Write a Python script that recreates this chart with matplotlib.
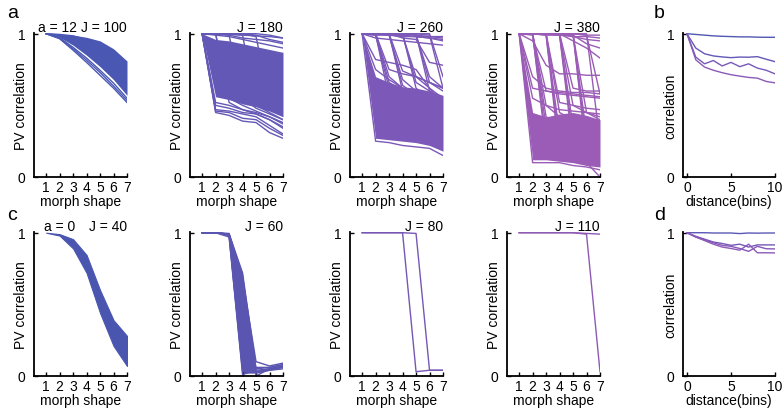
import matplotlib
matplotlib.use("Agg")
import matplotlib.pyplot as plt
import numpy as np

plt.rcParams['font.family'] = ['Liberation Sans', 'DejaVu Sans']
plt.rcParams['font.size'] = 10

# ---------------- data ----------------
morph_x = [1, 2, 3, 4, 5, 6, 7]
morph_ticks = [1, 2, 3, 4, 5, 6, 7]
dist_x = [0, 1, 2, 3, 4, 5, 6, 7, 8, 9, 10]
dist_ticks = [0, 5, 10]

titles_top = ["J = 100", "J = 180", "J = 260", "J = 380"]
titles_bot = ["J = 40", "J = 60", "J = 80", "J = 110"]
a_label_top = "a = 12"
a_label_bot = "a = 0"

colors_top = ["#4a58b4", "#6358b6", "#7c58b8", "#9a5cb6"]
colors_bot = ["#4a55b0", "#5a55b0", "#7657b4", "#8e5ab4"]

# panel a1 (J=100): dense band + edge lines
a1_band_hi = [1.0, 0.997, 0.99, 0.975, 0.95, 0.895, 0.81]
a1_band_lo = [1.0, 0.975, 0.92, 0.85, 0.77, 0.68, 0.57]
a1_lines = [
    [1.0, 0.965, 0.885, 0.80, 0.71, 0.62, 0.52],
    [1.0, 0.968, 0.895, 0.815, 0.73, 0.635, 0.535],
    [1.0, 0.972, 0.905, 0.83, 0.745, 0.655, 0.55],
    [1.0, 0.99, 0.96, 0.92, 0.86, 0.78, 0.68],
    [1.0, 0.995, 0.985, 0.96, 0.92, 0.85, 0.75],
]

# panel a2 (J=180)
a2_band_hi = [1.0, 0.96, 0.95, 0.93, 0.91, 0.89, 0.87]
a2_band_lo = [1.0, 0.56, 0.54, 0.51, 0.49, 0.46, 0.42]
a2_lines = [
    [1.0, 0.45, 0.43, 0.39, 0.38, 0.31, 0.27],
    [1.0, 0.47, 0.46, 0.44, 0.42, 0.36, 0.30],
    [1.0, 0.50, 0.48, 0.45, 0.44, 0.40, 0.34],
    [1.0, 0.52, 0.50, 0.47, 0.45, 0.42, 0.37],
    [1.0, 0.46, 0.45, 0.41, 0.40, 0.34, 0.29],
    [1.0, 0.99, 0.98, 0.96, 0.94, 0.92, 0.90],
    [1.0, 1.0, 0.995, 0.99, 0.985, 0.98, 0.97],
    [1.0, 1.0, 0.99, 0.97, 0.96, 0.95, 0.93],
    [1.0, 1.0, 0.55, 0.50, 0.46, 0.42, 0.38],
    [1.0, 1.0, 0.52, 0.47, 0.44, 0.40, 0.35],
    [1.0, 1.0, 0.99, 0.55, 0.48, 0.44, 0.40],
    [1.0, 1.0, 1.0, 0.99, 0.50, 0.45, 0.40],
    [1.0, 1.0, 1.0, 1.0, 0.98, 0.52, 0.45],
    [1.0, 1.0, 1.0, 1.0, 0.99, 0.96, 0.94],
    [1.0, 1.0, 1.0, 1.0, 1.0, 0.99, 0.97],
]

# panel a3 (J=260)
a3_band_hi = [1.0, 0.70, 0.66, 0.63, 0.62, 0.60, 0.57]
a3_band_lo = [1.0, 0.27, 0.26, 0.25, 0.24, 0.22, 0.18]
a3_lines = [
    [1.0, 0.25, 0.24, 0.22, 0.21, 0.20, 0.15],
    [1.0, 0.75, 0.68, 0.62, 0.58, 0.53, 0.48],
    [1.0, 0.82, 0.80, 0.78, 0.75, 0.62, 0.50],
    [1.0, 1.0, 0.55, 0.50, 0.45, 0.42, 0.38],
    [1.0, 0.99, 0.62, 0.56, 0.50, 0.46, 0.42],
    [1.0, 1.0, 0.70, 0.62, 0.55, 0.50, 0.45],
    [1.0, 0.995, 0.66, 0.60, 0.52, 0.48, 0.44],
    [1.0, 1.0, 0.75, 0.72, 0.70, 0.66, 0.62],
    [1.0, 1.0, 1.0, 0.60, 0.52, 0.48, 0.44],
    [1.0, 1.0, 0.99, 0.68, 0.60, 0.55, 0.50],
    [1.0, 1.0, 0.995, 0.64, 0.57, 0.52, 0.48],
    [1.0, 1.0, 1.0, 0.74, 0.70, 0.66, 0.62],
    [1.0, 1.0, 1.0, 1.0, 0.62, 0.55, 0.50],
    [1.0, 1.0, 1.0, 0.99, 0.70, 0.62, 0.55],
    [1.0, 1.0, 1.0, 0.995, 0.66, 0.60, 0.54],
    [1.0, 1.0, 1.0, 1.0, 1.0, 0.60, 0.55],
    [1.0, 1.0, 1.0, 1.0, 0.99, 0.70, 0.62],
    [1.0, 1.0, 1.0, 1.0, 0.995, 0.66, 0.60],
    [1.0, 1.0, 1.0, 1.0, 1.0, 0.99, 0.62],
    [1.0, 1.0, 1.0, 1.0, 1.0, 1.0, 0.70],
    [1.0, 1.0, 1.0, 0.99, 0.98, 0.97, 0.96],
    [1.0, 1.0, 0.99, 0.98, 0.98, 0.97, 0.95],
    [1.0, 0.99, 0.99, 0.985, 0.98, 0.98, 0.98],
    [1.0, 1.0, 1.0, 1.0, 0.99, 0.98, 0.97],
    [1.0, 0.97, 0.96, 0.95, 0.94, 0.93, 0.92],
    [1.0, 1.0, 1.0, 0.97, 0.96, 0.80, 0.78],
]

# panel a4 (J=380)
a4_band_hi = [1.0, 0.45, 0.42, 0.44, 0.45, 0.43, 0.40]
a4_band_lo = [1.0, 0.12, 0.12, 0.11, 0.10, 0.08, 0.07]
a4_lines = [
    [1.0, 0.10, 0.10, 0.10, 0.08, 0.07, 0.05],
    [1.0, 0.20, 0.18, 0.15, 0.12, 0.10, 0.0],
    [1.0, 0.55, 0.50, 0.47, 0.46, 0.45, 0.44],
    [1.0, 0.62, 0.60, 0.58, 0.57, 0.56, 0.55],
    [1.0, 0.70, 0.62, 0.60, 0.59, 0.59, 0.58],
    [1.0, 0.95, 0.78, 0.72, 0.72, 0.71, 0.71],
    [1.0, 1.0, 0.35, 0.30, 0.28, 0.25, 0.22],
    [1.0, 1.0, 0.50, 0.42, 0.40, 0.35, 0.30],
    [1.0, 1.0, 0.20, 0.18, 0.15, 0.15, 0.12],
    [1.0, 0.99, 0.60, 0.59, 0.58, 0.57, 0.56],
    [1.0, 0.995, 0.27, 0.24, 0.22, 0.20, 0.18],
    [1.0, 1.0, 0.42, 0.38, 0.35, 0.32, 0.30],
    [1.0, 1.0, 1.0, 0.30, 0.25, 0.22, 0.20],
    [1.0, 1.0, 1.0, 0.45, 0.40, 0.35, 0.30],
    [1.0, 1.0, 0.99, 0.15, 0.12, 0.10, 0.08],
    [1.0, 1.0, 0.995, 0.22, 0.20, 0.18, 0.16],
    [1.0, 1.0, 1.0, 0.52, 0.50, 0.48, 0.47],
    [1.0, 1.0, 1.0, 1.0, 0.35, 0.30, 0.25],
    [1.0, 1.0, 1.0, 0.99, 0.20, 0.18, 0.15],
    [1.0, 1.0, 1.0, 1.0, 0.50, 0.45, 0.42],
    [1.0, 1.0, 1.0, 0.995, 0.27, 0.24, 0.21],
    [1.0, 1.0, 1.0, 1.0, 0.62, 0.60, 0.60],
    [1.0, 1.0, 1.0, 1.0, 1.0, 0.30, 0.25],
    [1.0, 1.0, 1.0, 1.0, 0.99, 0.45, 0.40],
    [1.0, 1.0, 1.0, 1.0, 1.0, 0.15, 0.10],
    [1.0, 1.0, 1.0, 1.0, 0.995, 0.22, 0.18],
    [1.0, 1.0, 1.0, 1.0, 1.0, 1.0, 0.25],
    [1.0, 1.0, 1.0, 1.0, 1.0, 0.99, 0.58],
    [1.0, 1.0, 1.0, 1.0, 0.98, 0.96, 0.95],
    [1.0, 1.0, 1.0, 0.99, 0.99, 0.93, 0.90],
    [1.0, 1.0, 1.0, 1.0, 0.95, 0.90, 0.83],
    [1.0, 1.0, 0.99, 0.99, 0.98, 0.98, 0.97],
    [1.0, 1.0, 1.0, 1.0, 1.0, 0.99, 0.99],
]

# panel c1 (J=40): band
c1_band_hi = [1.0, 0.99, 0.955, 0.845, 0.60, 0.39, 0.28]
c1_band_lo = [1.0, 0.98, 0.89, 0.72, 0.44, 0.21, 0.07]

# panel c2 (J=60)
c2_lines = [
    [1.0, 1.0, 0.97, 0.01, 0.04, 0.05, 0.07],
    [1.0, 1.0, 0.98, 0.03, 0.06, 0.06, 0.08],
    [1.0, 1.0, 0.985, 0.05, 0.03, 0.04, 0.05],
    [1.0, 1.0, 0.99, 0.30, 0.02, 0.04, 0.06],
    [1.0, 1.0, 0.99, 0.55, 0.03, 0.05, 0.07],
    [1.0, 1.0, 0.99, 0.72, 0.05, 0.06, 0.08],
    [1.0, 1.0, 0.995, 0.70, 0.0, 0.05, 0.06],
    [1.0, 1.0, 0.99, 0.68, 0.10, 0.07, 0.09],
]
c2_band_x = [3, 4, 5]
c2_band_hi = [0.99, 0.70, 0.06]
c2_band_lo = [0.98, 0.02, 0.02]

# panel c3 (J=80)
c3_lines = [
    [1.0, 1.0, 1.0, 1.0, 0.03, 0.04, 0.04],
    [1.0, 1.0, 1.0, 1.0, 0.995, 0.04, 0.04],
]

# panel c4 (J=110)
c4_lines = [
    [1.0, 1.0, 1.0, 1.0, 1.0, 0.995, 0.99],
    [1.0, 1.0, 1.0, 1.0, 1.0, 0.99, 0.03],
]

# panel b
b_lines = [
    [1.0, 0.995, 0.99, 0.985, 0.982, 0.98, 0.978, 0.978, 0.976, 0.975, 0.975],
    [1.0, 0.90, 0.86, 0.845, 0.838, 0.833, 0.837, 0.836, 0.84, 0.822, 0.805],
    [1.0, 0.837, 0.79, 0.813, 0.775, 0.80, 0.77, 0.79, 0.76, 0.745, 0.72],
    [1.0, 0.818, 0.767, 0.745, 0.728, 0.714, 0.704, 0.695, 0.69, 0.667, 0.657],
]
b_colors = ["#5058b2", "#6258b6", "#7858b8", "#8a5ab8"]

# panel d
d_lines = [
    [1.0, 1.0, 1.0, 0.998, 0.998, 0.998, 0.994, 0.998, 0.997, 0.998, 0.998],
    [1.0, 0.975, 0.955, 0.935, 0.925, 0.912, 0.92, 0.90, 0.915, 0.915, 0.915],
    [1.0, 0.97, 0.95, 0.93, 0.912, 0.905, 0.89, 0.87, 0.905, 0.888, 0.887],
    [1.0, 0.97, 0.945, 0.92, 0.90, 0.89, 0.878, 0.92, 0.86, 0.86, 0.859],
]
d_colors = ["#5a58b4", "#7658b8", "#8658b8", "#8e5ab8"]

# ---------------- layout ----------------
W, H = 783, 410
fig = plt.figure(figsize=(W / 100, H / 100), dpi=100)

col_left = [34, 190, 350, 507]
col_w = 93
b_left, b_w = 683, 92
row_top = [34, 233]
row_h = 144


def make_ax(left, top, width):
    return fig.add_axes([left / W, 1 - (top + row_h) / H, width / W, row_h / H])


def style(ax, xticks, xlim, xlabel, ylabel, width):
    for s in ["top", "right"]:
        ax.spines[s].set_visible(False)
    for s in ["left", "bottom"]:
        ax.spines[s].set_linewidth(1.3)
    ax.set_ylim(0, 1.005)
    ax.set_xlim(*xlim)
    ax.set_yticks([0, 1])
    ax.set_yticklabels(["0", "1"])
    ax.set_xticks(xticks)
    ax.tick_params(direction="in", length=3, width=1, labelsize=10)
    ax.tick_params(axis="y", pad=6)
    ax.tick_params(axis="x", pad=2)
    ax.set_xlabel(xlabel, fontsize=10, labelpad=0)
    ax.set_ylabel(ylabel, fontsize=10)
    ax.yaxis.set_label_coords(-6.0 / width, 0.5)


def morph_ax(left, top):
    ax = make_ax(left, top, col_w)
    style(ax, morph_ticks, (0.1, 7.0), "morph shape", "PV correlation", col_w)
    return ax


lw = 1.0

axs_top = [morph_ax(l, row_top[0]) for l in col_left]
axs_bot = [morph_ax(l, row_top[1]) for l in col_left]

ax = axs_top[0]
ax.fill_between(morph_x, a1_band_lo, a1_band_hi, color=colors_top[0], lw=0)
for ln in a1_lines:
    ax.plot(morph_x, ln, color=colors_top[0], lw=lw)

ax = axs_top[1]
ax.fill_between(morph_x, a2_band_lo, a2_band_hi, color=colors_top[1], lw=0)
for ln in a2_lines:
    ax.plot(morph_x, ln, color=colors_top[1], lw=lw)

ax = axs_top[2]
ax.fill_between(morph_x, a3_band_lo, a3_band_hi, color=colors_top[2], lw=0)
for ln in a3_lines:
    ax.plot(morph_x, ln, color=colors_top[2], lw=lw)

ax = axs_top[3]
ax.fill_between(morph_x, a4_band_lo, a4_band_hi, color=colors_top[3], lw=0)
for ln in a4_lines:
    ax.plot(morph_x, ln, color=colors_top[3], lw=lw)

ax = axs_bot[0]
ax.fill_between(morph_x, c1_band_lo, c1_band_hi, color=colors_bot[0], lw=0.8,
                edgecolor=colors_bot[0])

ax = axs_bot[1]
ax.fill_between(c2_band_x, c2_band_lo, c2_band_hi, color=colors_bot[1], lw=0)
for ln in c2_lines:
    ax.plot(morph_x, ln, color=colors_bot[1], lw=lw)

ax = axs_bot[2]
for ln in c3_lines:
    ax.plot(morph_x, ln, color=colors_bot[2], lw=1.0)

ax = axs_bot[3]
for ln in c4_lines:
    ax.plot(morph_x, ln, color=colors_bot[3], lw=1.0)

ty = 0.995
for i, ax in enumerate(axs_top):
    ax.text(1.0, ty, titles_top[i], transform=ax.transAxes, ha="right", va="bottom", fontsize=10)
for i, ax in enumerate(axs_bot):
    ax.text(1.0, ty, titles_bot[i], transform=ax.transAxes, ha="right", va="bottom", fontsize=10)
axs_top[0].text(0.04, ty, a_label_top, transform=axs_top[0].transAxes, ha="left", va="bottom", fontsize=10)
axs_bot[0].text(0.11, ty, a_label_bot, transform=axs_bot[0].transAxes, ha="left", va="bottom", fontsize=10)

axb = make_ax(b_left, row_top[0], b_w)
style(axb, dist_ticks, (-0.45, 10), "distance(bins)", "correlation", b_w)
for ln, c in zip(b_lines, b_colors):
    axb.plot(dist_x, ln, color=c, lw=1.0)

axd = make_ax(b_left, row_top[1], b_w)
style(axd, dist_ticks, (-0.45, 10), "distance(bins)", "correlation", b_w)
for ln, c in zip(d_lines, d_colors):
    axd.plot(dist_x, ln, color=c, lw=1.0)

for lab, x, y in [("a", 7, 13), ("b", 654, 13), ("c", 7, 216), ("d", 654, 216)]:
    fig.text(x / W, 1 - y / H, lab, fontsize=14, ha="left", va="center")

fig.savefig("out.png", dpi=100)
